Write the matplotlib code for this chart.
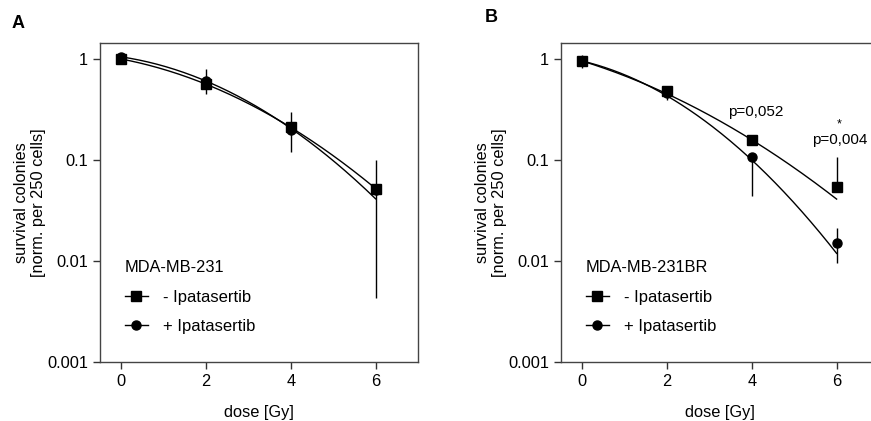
import matplotlib
matplotlib.use("Agg")
import matplotlib.pyplot as plt
import numpy as np

plt.rcParams['font.family'] = ['Liberation Sans', 'DejaVu Sans']

# dosis (Gy)
doses = [0, 2, 4, 6]

# Panel A: MDA-MB-231
a_sq = [1.0, 0.56, 0.21, 0.052]
a_sq_lo = [1.0, 0.45, 0.21, 0.0043]
a_sq_hi = [1.0, 0.56, 0.21, 0.10]
a_ci = [1.05, 0.61, 0.20, 0.051]
a_ci_lo = [1.05, 0.61, 0.12, 0.051]
a_ci_hi = [1.05, 0.79, 0.30, 0.051]

# Panel B: MDA-MB-231BR
b_sq = [0.955, 0.48, 0.158, 0.054]
b_sq_lo = [0.81, 0.48, 0.158, 0.054]
b_sq_hi = [1.10, 0.48, 0.158, 0.108]
b_ci = [0.95, 0.46, 0.108, 0.0152]
b_ci_lo = [0.95, 0.39, 0.044, 0.0095]
b_ci_hi = [0.95, 0.46, 0.108, 0.021]

# parametros del ajuste lineal-cuadratico: S0, alpha, beta
fit_a_sq = (1.0, 0.185, 0.0512)
fit_a_ci = (1.05, 0.144, 0.0659)
fit_b_sq = (0.955, 0.299, 0.0376)
fit_b_ci = (0.955, 0.231, 0.0833)

legend_labels = ['- Ipatasertib', '+ Ipatasertib']
yticks = [0.001, 0.01, 0.1, 1]
ytick_labels = ['0.001', '0.01', '0.1', '1']

FS = 11.8


def lq(d, p):
    s0, alpha, beta = p
    return s0 * np.exp(-alpha * d - beta * d ** 2)


def panel(ax, sq, sq_lo, sq_hi, ci, ci_lo, ci_hi, fit_sq, fit_ci, title):
    d = np.linspace(0, 6, 200)
    ax.plot(d, lq(d, fit_sq), color='black', lw=1)
    ax.plot(d, lq(d, fit_ci), color='black', lw=1)
    x = np.array(doses, dtype=float)
    for v, lo, hi in [(ci, ci_lo, ci_hi), (sq, sq_lo, sq_hi)]:
        v = np.array(v); lo = np.array(lo); hi = np.array(hi)
        ax.errorbar(x, v, yerr=[v - lo, hi - v], fmt='none', ecolor='black',
                    elinewidth=1, capsize=0)
    ax.plot(x, ci, 'o', color='black', ms=6.5, zorder=3)
    ax.plot(x, sq, 's', color='black', ms=6.5, zorder=4)
    # handles de la leyenda
    h1, = ax.plot([], [], 's-', color='black', ms=6.5, lw=1)
    h2, = ax.plot([], [], 'o-', color='black', ms=6.5, lw=1)
    leg = ax.legend([h1, h2], legend_labels, title=title, loc='lower left',
                    bbox_to_anchor=(0.03, 0.04), frameon=False, fontsize=12,
                    title_fontsize=FS, handlelength=1.4, handletextpad=0.9,
                    labelspacing=0.85, alignment='left')
    leg._legend_box.sep = 11

    ax.set_yscale('log')
    ax.set_ylim(0.001, 1.44)
    ax.set_xlim(-0.5, 7)
    ax.set_yticks(yticks)
    ax.set_yticklabels(ytick_labels)
    ax.minorticks_off()
    ax.set_xticks(doses)
    ax.tick_params(direction='out', length=5, width=1, labelsize=FS, color='#333333')
    for s in ax.spines.values():
        s.set_color('#444444')
        s.set_linewidth(1)
    ax.set_xlabel('dose [Gy]', fontsize=FS, labelpad=12)
    ax.set_ylabel('survival colonies\n[norm. per 250 cells]', fontsize=FS, labelpad=1)


fig = plt.figure(figsize=(8.71, 4.21), dpi=100)
axA = fig.add_axes([100 / 871, 1 - 362 / 421, 318 / 871, 319 / 421])
axB = fig.add_axes([561 / 871, 1 - 362 / 421, 318 / 871, 319 / 421])

panel(axA, a_sq, a_sq_lo, a_sq_hi, a_ci, a_ci_lo, a_ci_hi, fit_a_sq, fit_a_ci, 'MDA-MB-231')
panel(axB, b_sq, b_sq_lo, b_sq_hi, b_ci, b_ci_lo, b_ci_hi, fit_b_sq, fit_b_ci, 'MDA-MB-231BR')

axB.text(3.43, 0.30, 'p=0,052', fontsize=11, va='center', ha='left')
axB.text(5.42, 0.158, 'p=0,004', fontsize=11, va='center', ha='left')
axB.text(6.05, 0.225, '*', fontsize=9, va='center', ha='center')

fig.text(18 / 871, 1 - 23 / 421, 'A', fontsize=13, fontweight='bold', va='center', ha='center')
fig.text(491 / 871, 1 - 17 / 421, 'B', fontsize=13, fontweight='bold', va='center', ha='center')

fig.savefig('out.png', dpi=100)
